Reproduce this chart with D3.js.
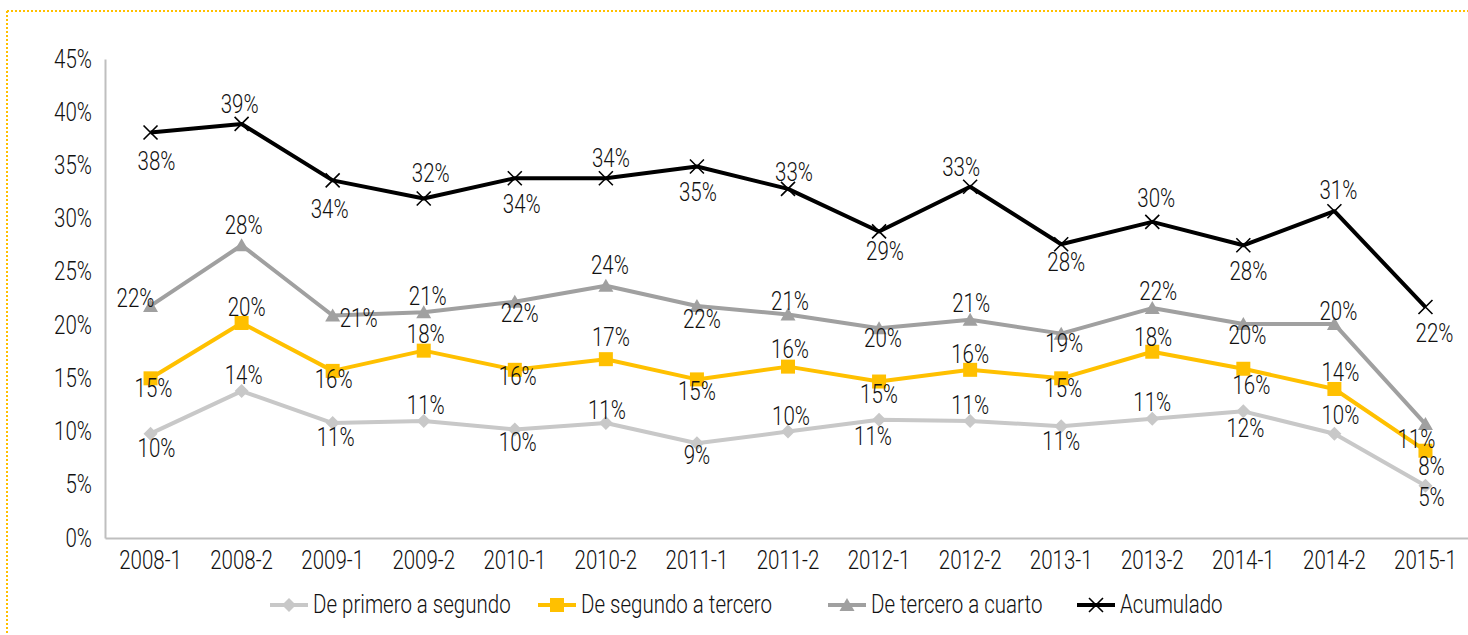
<!DOCTYPE html>
<html>
<head>
<meta charset="utf-8">
<script src="https://cdn.jsdelivr.net/npm/d3@7"></script>
<style>
  html, body { margin: 0; padding: 0; background: #fff; }
  svg { display: block; }
  text { font-family: Roboto, "DejaVu Sans Condensed", sans-serif; font-weight: 300; fill: #111; }
</style>
</head>
<body>
<svg id="chart" width="1468" height="635"></svg>
<script>
// ---- data ----
const categories = ["2008-1","2008-2","2009-1","2009-2","2010-1","2010-2","2011-1","2011-2","2012-1","2012-2","2013-1","2013-2","2014-1","2014-2","2015-1"];
const yTicks = [0, 5, 10, 15, 20, 25, 30, 35, 40, 45];
const seriesNames = ["De primero a segundo", "De segundo a tercero", "De tercero a cuarto", "Acumulado"];
const primeroASegundo = [9.8, 13.8, 10.8, 11.0, 10.2, 10.8, 8.9, 10.0, 11.1, 11.0, 10.5, 11.2, 11.9, 9.8, 4.9];
const segundoATercero = [15.0, 20.2, 15.7, 17.6, 15.8, 16.8, 14.9, 16.1, 14.7, 15.8, 15.0, 17.5, 15.9, 14.0, 8.2];
const terceroACuarto = [21.8, 27.5, 20.9, 21.2, 22.2, 23.7, 21.8, 21.0, 19.7, 20.5, 19.2, 21.6, 20.1, 20.1, 10.7];
const acumulado = [38.1, 38.9, 33.6, 31.9, 33.8, 33.8, 34.9, 32.8, 28.8, 33.0, 27.6, 29.7, 27.5, 30.7, 21.7];

// label offsets relative to each point (layout only)
const offPrimero = [[6,15],[2,-15],[3,15],[2,-15],[3,13],[1,-12],[0,13],[3,-15],[-6,17],[0,-15],[0,16],[0,-16],[2,17],[6,-18],[6,12]];
const offSegundo = [[3,10],[5,-15],[1,9],[2,-16],[3,7],[5,-21],[0,12],[2,-17],[0,13],[0,-15],[2,10],[1,-14],[8,17],[6,-16],[6,16]];
const offTercero = [[-15,-7],[2,-19],[26,3],[4,-16],[5,12],[4,-20],[5,14],[2,-13],[4,10],[1,-16],[3,10],[6,-16],[4,12],[4,-12],[-9,16]];
const offAcum = [[6,29],[-2,-19],[-3,29],[7,-25],[7,27],[5,-19],[1,26],[6,-16],[6,20],[-9,-19],[5,19],[4,-23],[5,27],[4,-20],[9,27]];

// ---- layout ----
const FS = 25, SX = 0.82;
const svg = d3.select("#chart");
const plotLeft = 105, plotRight = 1471, plotTop = 59, plotBottom = 538;
const x = d3.scaleBand().domain(categories).range([plotLeft, plotRight]);
const y = d3.scaleLinear().domain([0, 45]).range([plotBottom, plotTop]);
const cx = c => x(c) + x.bandwidth() / 2;

// horizontally condense text around its anchor
function condense(sel) {
  sel.each(function () {
    const t = d3.select(this);
    const tx = +t.attr("x") || 0, ty = +t.attr("y") || 0;
    t.attr("x", 0).attr("y", 0).attr("transform", `translate(${tx},${ty}) scale(${SX},1)`);
  });
}

// dotted frame
svg.append("line").attr("x1", 7).attr("x2", 1468).attr("y1", 11).attr("y2", 11)
  .attr("stroke", "#ffc000").attr("stroke-width", 2).attr("stroke-dasharray", "2,2");
svg.append("line").attr("x1", 7).attr("x2", 7).attr("y1", 11).attr("y2", 635)
  .attr("stroke", "#ffc000").attr("stroke-width", 2).attr("stroke-dasharray", "2,2");

// axes
const yAxis = svg.append("g").attr("transform", `translate(${plotLeft},0)`)
  .call(d3.axisLeft(y).tickValues(yTicks).tickSize(0).tickPadding(13).tickFormat(d => d + "%"));
yAxis.select(".domain").attr("stroke", "#bfbfbf").attr("stroke-width", 2);
yAxis.selectAll("text").attr("font-size", FS).attr("fill", "#111").call(condense);

const xAxis = svg.append("g").attr("transform", `translate(0,${plotBottom})`)
  .call(d3.axisBottom(x).tickSize(0).tickPadding(13));
xAxis.select(".domain").attr("stroke", "#bfbfbf").attr("stroke-width", 2);
xAxis.selectAll("text").attr("font-size", FS).attr("fill", "#111").call(condense);

// series definitions
const sym = {
  diamond: (g, col) => g.append("path").attr("d", "M0,-7L7,0L0,7L-7,0Z").attr("fill", col),
  square: (g, col) => g.append("rect").attr("x", -7).attr("y", -7).attr("width", 14).attr("height", 14).attr("fill", col),
  triangle: (g, col) => g.append("path").attr("d", "M0,-7L7.5,6L-7.5,6Z").attr("fill", col),
  cross: (g, col) => g.append("path").attr("d", "M-7,-7L7,7M-7,7L7,-7").attr("stroke", col).attr("stroke-width", 1.6).attr("fill", "none")
};
const series = [
  { name: seriesNames[0], values: primeroASegundo, color: "#c8c8c8", marker: "diamond", off: offPrimero },
  { name: seriesNames[1], values: segundoATercero, color: "#ffc000", marker: "square", off: offSegundo },
  { name: seriesNames[2], values: terceroACuarto, color: "#a0a0a0", marker: "triangle", off: offTercero },
  { name: seriesNames[3], values: acumulado, color: "#000000", marker: "cross", off: offAcum }
];

const line = d3.line().x((d, i) => cx(categories[i])).y(d => y(d));

series.forEach(s => {
  svg.append("path").datum(s.values).attr("d", line)
    .attr("fill", "none").attr("stroke", s.color).attr("stroke-width", 4).attr("stroke-linejoin", "round");
  s.values.forEach((v, i) => {
    const g = svg.append("g").attr("transform", `translate(${cx(categories[i])},${y(v)})`);
    sym[s.marker](g, s.color);
  });
});

// data labels on top
series.forEach(s => {
  svg.append("g").selectAll("text").data(s.values).join("text")
    .attr("x", (d, i) => cx(categories[i]) + s.off[i][0])
    .attr("y", (d, i) => y(d) + s.off[i][1])
    .attr("text-anchor", "middle").attr("dominant-baseline", "central")
    .attr("font-size", FS)
    .text(d => Math.round(d) + "%")
    .call(condense);
});

// legend
const legendX = [270, 538, 828, 1077];
const legendY = 605;
series.forEach((s, i) => {
  const g = svg.append("g").attr("transform", `translate(${legendX[i]},${legendY})`);
  g.append("line").attr("x1", 0).attr("x2", 38).attr("y1", 0).attr("y2", 0)
    .attr("stroke", s.color).attr("stroke-width", 4);
  const m = g.append("g").attr("transform", "translate(19,0)");
  sym[s.marker](m, s.color);
  g.append("text").attr("x", 43).attr("y", 0).attr("dominant-baseline", "central")
    .attr("font-size", FS).text(s.name).call(condense);
});
</script>
</body>
</html>
